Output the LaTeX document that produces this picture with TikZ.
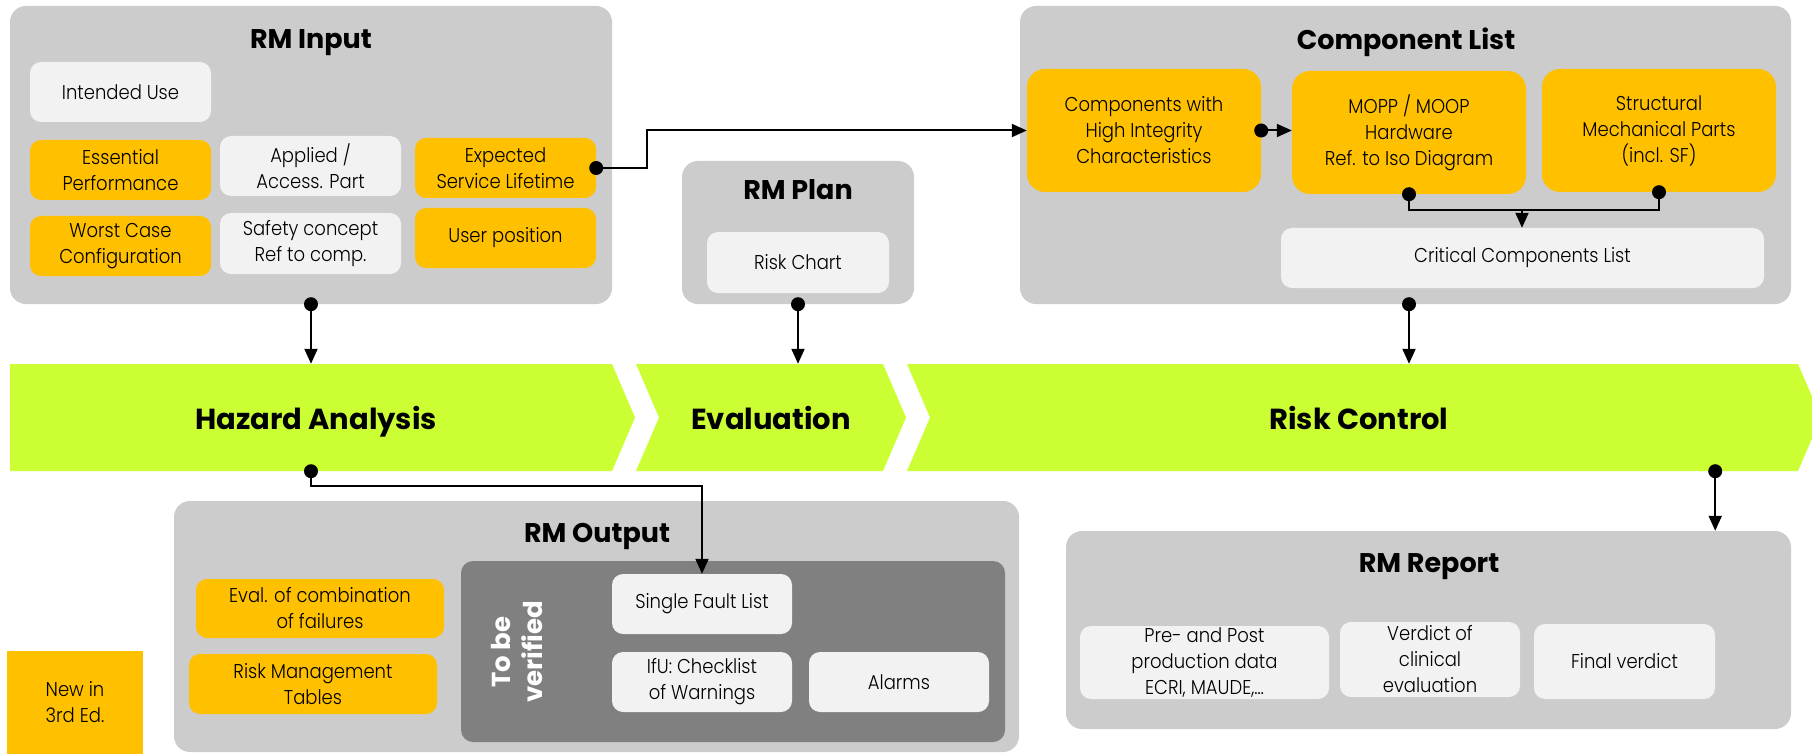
\documentclass[tikz,border=0pt]{standalone}
\usepackage{fontspec}
\setmainfont{Poppins}[FakeStretch=0.9, UprightFont={* Light}]
\newfontfamily\headfont{Poppins}
\usetikzlibrary{arrows.meta}
\definecolor{panelgray}{HTML}{CCCCCC}
\definecolor{boxwhite}{HTML}{F2F2F2}
\definecolor{boxorange}{HTML}{FFC000}
\definecolor{chevgreen}{HTML}{CCFF33}
\definecolor{darkpanel}{HTML}{808080}
\tikzset{
  panelbox/.style={fill=panelgray, rounded corners=16pt, inner sep=0pt},
  wbox/.style={fill=boxwhite, rounded corners=11pt, inner sep=0pt, align=center, font=\fontsize{20}{26}\selectfont},
  obox/.style={wbox, fill=boxorange},
  bigobox/.style={obox, rounded corners=18pt},
  ttl/.style={font=\headfont\bfseries\fontsize{27}{32}\selectfont, inner sep=0pt, text depth=0pt},
  chevtxt/.style={font=\headfont\bfseries\fontsize{29}{34}\selectfont, inner sep=0pt, text depth=0pt, minimum height=107pt},
  chev/.style={fill=chevgreen},
  conn/.style={line width=2pt, -{Triangle[length=15pt,width=13pt]}},
  plainline/.style={line width=2pt},
  dotc/.style={fill=black},
}
\begin{document}
\begin{tikzpicture}[x=1pt,y=-1pt]
\useasboundingbox (0,0) rectangle (1812,754);
\clip (0,0) rectangle (1812,754);
\fill[white] (0,0) rectangle (1812,754);

% ---------- RM Input ----------
\node[panelbox, minimum width=602pt, minimum height=298pt] (input) at (311,155) {};
\node[ttl] (inputttl) at (311,39) {RM Input};
\node[wbox, minimum width=181pt, minimum height=60pt] (intended) at (120.5,92) {Intended Use};
\node[obox, minimum width=181pt, minimum height=60pt] (essential) at (120.5,170) {Essential\\Performance};
\node[wbox, minimum width=181pt, minimum height=60pt] (applied) at (310.5,166) {Applied /\\Access. Part};
\node[obox, minimum width=181pt, minimum height=60pt] (expected) at (505.5,168) {Expected\\Service Lifetime};
\node[obox, minimum width=181pt, minimum height=60pt] (worst) at (120.5,246) {Worst Case\\Configuration};
\node[wbox, minimum width=181pt, minimum height=61pt] (safety) at (310.5,243.5) {Safety concept\\Ref to comp.};
\node[obox, minimum width=181pt, minimum height=60pt] (userpos) at (505.5,238) {User position};

% ---------- RM Plan ----------
\node[panelbox, minimum width=232pt, minimum height=143pt] (plan) at (798,232.5) {};
\node[ttl] (planttl) at (798,190) {RM Plan};
\node[wbox, minimum width=182pt, minimum height=61pt] (riskchart) at (798,262.5) {Risk Chart};

% ---------- Component List ----------
\node[panelbox, minimum width=771pt, minimum height=298pt] (comp) at (1405.5,155) {};
\node[ttl] (compttl) at (1406,39) {Component List};
\node[bigobox, minimum width=234pt, minimum height=123pt] (hic) at (1144,130.5) {Components with\\High Integrity\\Characteristics};
\node[bigobox, minimum width=234pt, minimum height=123pt] (mopp) at (1409,132.5) {MOPP / MOOP\\Hardware\\Ref. to Iso Diagram};
\node[bigobox, minimum width=234pt, minimum height=123pt] (struct) at (1659,130.5) {Structural\\Mechanical Parts\\(incl. SF)};
\node[wbox, minimum width=483pt, minimum height=60pt] (crit) at (1522.5,258) {Critical Components List};

% ---------- Chevrons ----------
\fill[chev] (10,364) -- (612,364) -- (635,417.5) -- (612,471) -- (10,471) -- cycle;
\fill[chev] (636,364) -- (883,364) -- (906,417.5) -- (883,471) -- (636,471) -- (659,417.5) -- cycle;
\fill[chev] (907,364) -- (1798,364) -- (1821,417.5) -- (1798,471) -- (907,471) -- (930,417.5) -- cycle;
\node[chevtxt] (ha) at (316,417.5) {Hazard Analysis};
\node[chevtxt] (ev) at (771,417.5) {Evaluation};
\node[chevtxt] (rc) at (1359,417.5) {Risk Control};

% ---------- RM Output ----------
\node[panelbox, minimum width=845pt, minimum height=251pt] (output) at (596.5,626.5) {};
\node[ttl] (outputttl) at (597,533) {RM Output};
\node[fill=darkpanel, rounded corners=12pt, inner sep=0pt, minimum width=544pt, minimum height=181pt] (verify) at (733,651.5) {};
\node[rotate=90, align=center, text=white, inner sep=0pt, font=\headfont\bfseries\fontsize{26}{32}\selectfont] (tbv) at (517,652) {To be\\verified};
\node[wbox, minimum width=180pt, minimum height=60pt] (single) at (702,604) {Single Fault List};
\node[wbox, minimum width=180pt, minimum height=60pt] (ifu) at (702,682) {IfU: Checklist\\of Warnings};
\node[wbox, minimum width=180pt, minimum height=60pt] (alarms) at (899,682) {Alarms};
\node[obox, minimum width=248pt, minimum height=59pt] (evalcomb) at (320,608.5) {Eval. of combination\\of failures};
\node[obox, minimum width=248pt, minimum height=60pt] (rmtables) at (313,684) {Risk Management\\Tables};

% ---------- Legend ----------
\node[fill=boxorange, inner sep=0pt, align=center, minimum width=136pt, minimum height=103pt, font=\fontsize{20}{26}\selectfont] (legend) at (75,702.5) {New in\\3rd Ed.};

% ---------- RM Report ----------
\node[panelbox, minimum width=725pt, minimum height=198pt] (report) at (1428.5,630) {};
\node[ttl] (reportttl) at (1429,563) {RM Report};
\node[wbox, minimum width=249pt, minimum height=73pt] (prepost) at (1204.5,662.5) {Pre- and Post\\production data\\ECRI, MAUDE,…};
\node[wbox, minimum width=180pt, minimum height=75pt] (verdict) at (1430,659.5) {Verdict of\\clinical\\evaluation};
\node[wbox, minimum width=181pt, minimum height=75pt] (final) at (1624.5,661.5) {Final verdict};

% ---------- Connectors ----------
\draw[conn] (expected.east) -- ++(51,0) |- (hic.west);
\draw[conn] (hic.east) -- (hic.east -| mopp.west);
\coordinate (cj) at (1522,210);
\draw[plainline] (mopp.south) |- (cj);
\draw[plainline] (struct.south) |- (cj);
\draw[conn] (cj) -- (cj |- crit.north);
\draw[conn] (input.south) -- (input.south |- ha.north);
\draw[conn] (plan.south) -- (plan.south |- ev.north);
\draw[conn] (comp.south -| mopp.south) -- (mopp.south |- rc.north);
\draw[conn] (rc.south -| final.east) -- (final.east |- report.north);
\draw[conn] (ha.south -| input.south) -- ++(0,15) -| (single.north);

% ---------- Dots ----------
\fill[dotc] (expected.east) circle[radius=7pt];
\fill[dotc] (hic.east) circle[radius=7pt];
\fill[dotc] (mopp.south) circle[radius=7pt];
\fill[dotc] (struct.south) circle[radius=7pt];
\fill[dotc] (input.south) circle[radius=7pt];
\fill[dotc] (plan.south) circle[radius=7pt];
\fill[dotc] (comp.south -| mopp.south) circle[radius=7pt];
\fill[dotc] (rc.south -| final.east) circle[radius=7pt];
\fill[dotc] (ha.south -| input.south) circle[radius=7pt];
\end{tikzpicture}
\end{document}
